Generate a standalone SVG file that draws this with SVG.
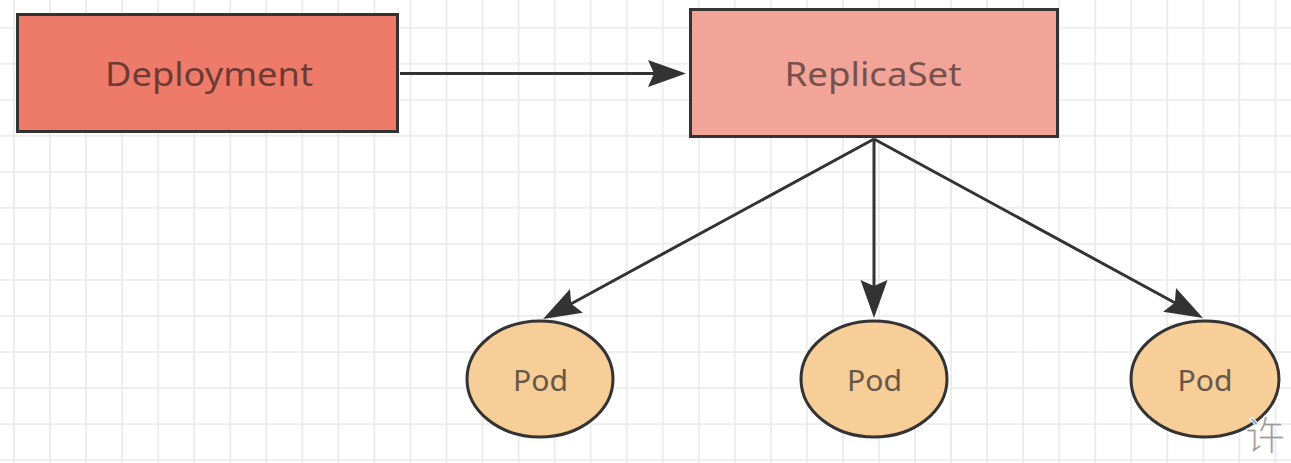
<svg xmlns="http://www.w3.org/2000/svg" width="1291" height="463" viewBox="0 0 1291 463">
  <style>
    .box { stroke: #333333; stroke-width: 3; }
    .pod { fill: #F7CD98; stroke: #333333; stroke-width: 3; }
    .lbl { font-family: "Noto Sans", "Open Sans", sans-serif; text-anchor: middle; }
    .edge { stroke: #333333; stroke-width: 3; fill: none; }
  </style>
  <defs>
    <pattern id="grid" patternUnits="userSpaceOnUse" x="13" y="26.7" width="36.04" height="36.04">
      <path d="M1,0 V36.04 M0,1 H36.04" stroke="#e9e9e9" stroke-width="1.6" fill="none"/>
    </pattern>
    <marker id="arrow" markerUnits="userSpaceOnUse" markerWidth="42" markerHeight="30" refX="7" refY="13.5" orient="auto">
      <path d="M0,0 L38,13.5 L0,27 L6,13.5 Z" fill="#333333"/>
    </marker>
  </defs>
  <rect x="0" y="0" width="1291" height="463" fill="#ffffff"/>
  <rect x="0" y="0" width="1291" height="463" fill="url(#grid)"/>

  <g id="connectors">
    <line class="edge" x1="400" y1="73.5" x2="655" y2="73.5" marker-end="url(#arrow)"/>
    <line class="edge" x1="874" y1="139" x2="570.3" y2="304.2" marker-end="url(#arrow)"/>
    <line class="edge" x1="874" y1="139" x2="874" y2="287" marker-end="url(#arrow)"/>
    <line class="edge" x1="874" y1="139" x2="1175.7" y2="303.2" marker-end="url(#arrow)"/>
  </g>

  <g id="deployment">
    <rect class="box" x="17.5" y="14.5" width="380" height="117" fill="#EE7B69"/>
    <text class="lbl" x="209" y="86" font-size="33" fill="#6e3a34" textLength="208" lengthAdjust="spacingAndGlyphs">Deployment</text>
  </g>

  <g id="replicaset">
    <rect class="box" x="690.5" y="9.5" width="367" height="127" fill="#F1A497"/>
    <text class="lbl" x="873" y="86" font-size="33" fill="#77504b" textLength="177" lengthAdjust="spacingAndGlyphs">ReplicaSet</text>
  </g>

  <g id="pod1">
    <ellipse class="pod" cx="540" cy="379" rx="73" ry="58"/>
    <text class="lbl" x="540.5" y="391" font-size="29" fill="#665848" textLength="55" lengthAdjust="spacingAndGlyphs">Pod</text>
  </g>
  <g id="pod2">
    <ellipse class="pod" cx="874" cy="379" rx="73" ry="58"/>
    <text class="lbl" x="874.5" y="391" font-size="29" fill="#665848" textLength="55" lengthAdjust="spacingAndGlyphs">Pod</text>
  </g>
  <g id="pod3">
    <ellipse class="pod" cx="1205" cy="379" rx="74" ry="58"/>
    <text class="lbl" x="1205" y="391" font-size="29" fill="#665848" textLength="55" lengthAdjust="spacingAndGlyphs">Pod</text>
  </g>

  <text x="1245" y="450" font-size="40" font-family="'Noto Sans CJK SC', sans-serif" fill="#9a9a9a" stroke="#ffffff" stroke-width="1">许</text>
</svg>
